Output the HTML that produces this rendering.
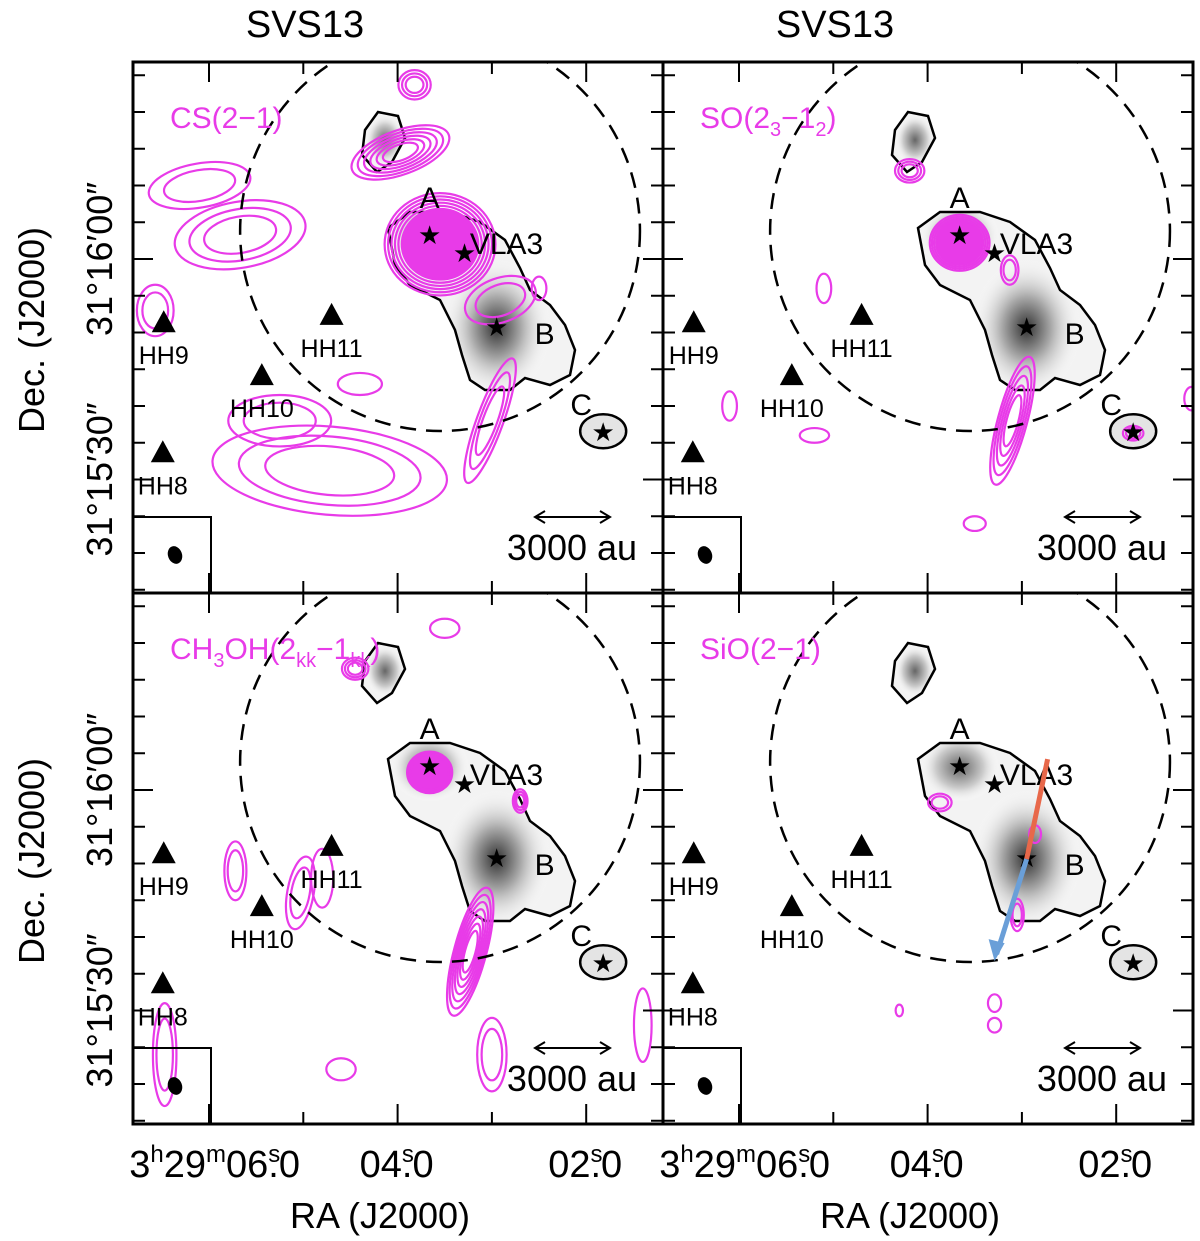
<!DOCTYPE html>
<html><head><meta charset="utf-8"><style>
html,body{margin:0;padding:0;background:#fff;}
svg{display:block;font-family:"Liberation Sans",sans-serif;}
</style></head><body>
<svg id="fig" width="1200" height="1241" viewBox="0 0 1200 1241" xmlns="http://www.w3.org/2000/svg">
<defs>
<radialGradient id="gB" cx="0.5" cy="0.5" r="0.5"><stop offset="0" stop-color="#333"/><stop offset="0.45" stop-color="#aaa"/><stop offset="1" stop-color="#fff" stop-opacity="0"/></radialGradient>
<radialGradient id="gA" cx="0.5" cy="0.5" r="0.5"><stop offset="0" stop-color="#666"/><stop offset="0.6" stop-color="#ccc"/><stop offset="1" stop-color="#fff" stop-opacity="0"/></radialGradient>
</defs>
</svg>
<script>
// ---- data ----
const panelNames = ['CS(2\u22121)','SO','CH3OH','SiO(2\u22121)'];
const starNames = ['A','VLA3','B','C'];
const starRA = [3.66, 3.29, 2.95, 1.82];
const starDec = [3.1, 0.7, -9.4, -23.7];
const hhNames = ['HH9','HH11','HH10','HH8'];
const hhRA = [6.48, 4.70, 5.44, 6.49];
const hhDec = [-8.6, -7.6, -15.8, -26.3];
const circleRA = 3.55, circleDec = 3.8, circleR = 27.2;
const raLabels = ['06','04','02'];
// contour blobs per panel: [ra, dec, rx(arcsec), ry(arcsec), angle, levels, filled]
const csBlobs = [[3.55,2.0,5.2,4.8,0,6,1],[3.97,14.5,7,3,-20,6,0],[3.82,23.7,2.2,2,0,3,0],[5.67,3.3,9,4.5,-10,3,0],[6.10,10,7,3,-10,2,0],[4.72,-28.8,16,6,5,3,0],[5.25,-22,7,3.5,0,2,0],[3.02,-22,1.8,9,20,3,0],[2.91,-5.6,5,3,-20,2,0],[6.57,-7,2.5,3.5,0,2,0],[2.5,-4,1,1.6,0,1,0],[4.4,-17,3,1.5,0,1,0]];
const soBlobs = [[3.66,2.2,3.2,3.0,0,4,1],[4.19,12,2,1.6,0,3,0],[3.13,-1.5,1.2,2,0,2,0],[3.10,-22,2,9,15,5,0],[1.82,-23.7,1.4,1,0,2,0],[5.1,-4,1,2,0,1,0],[6.1,-20,1,2,0,1,0],[5.2,-24,2,1,0,1,0],[3.5,-36,1.5,1,0,1,0],[1.2,-19,1,1.6,0,1,0]];
const chBlobs = [[3.66,2.4,2.6,2.4,0,3,1],[4.45,16.5,1.8,1.5,0,3,0],[3.23,-22,2.2,9,15,7,0],[2.70,-1.5,1,1.6,0,3,0],[5.72,-11,1.5,4,0,2,0],[5.03,-14,1.8,5,10,2,0],[6.47,-36,1.6,7,0,2,0],[4.8,-12,1.5,4,0,1,0],[3.0,-36,2,5,0,2,0],[4.6,-38,2,1.5,0,1,0],[1.4,-32,1.2,5,0,1,0],[3.5,22,2,1.3,0,1,0]];
const sioBlobs = [[3.87,-1.7,1.6,1.2,0,2,0],[2.86,-6,0.8,1.2,0,1,0],[3.05,-17,0.9,2.2,0,2,0],[3.29,-29,0.9,1.2,0,1,0],[3.29,-32,0.9,1,0,1,0],[4.3,-30,0.5,0.8,0,1,0]];
const blobSets = [csBlobs, soBlobs, chBlobs, sioBlobs];

// ---- geometry ----
const W0 = 133, PW = 530, PH = 531, T0 = 62;
const panels = [[0,0],[1,0],[0,1],[1,1]];
function xOf(ra, ox){ return 209 + ox + (6 - ra) * 94.3; }
function yOf(dec, oy){ return 259 + oy - dec * 7.35; }
const ppa = 7.35;
const NS = 'http://www.w3.org/2000/svg';
const svg = document.getElementById('fig');
function el(tag, attrs, parent){ const e = document.createElementNS(NS, tag); for (const k in attrs) e.setAttribute(k, attrs[k]); (parent||svg).appendChild(e); return e; }
const dustMain = [[388,228],[410,212],[450,212],[480,222],[505,240],[520,268],[530,290],[550,305],[565,325],[575,350],[570,375],[550,385],[525,378],[510,390],[485,390],[470,380],[462,355],[455,330],[440,300],[410,285],[395,265]];
const dustNW = [[365,130],[378,112],[398,116],[405,138],[392,162],[377,172],[362,155]];

panels.forEach((p, i) => {
  const ox = p[0]*PW, oy = p[1]*PH;
  const g = el('g', {}, svg);
  
  
  const cid = 'clip' + i;
  const cp = el('clipPath', {id: cid}, g);
  el('rect', {x: W0+ox, y: T0+oy, width: PW, height: PH}, cp);
  const inner = el('g', {'clip-path': 'url(#'+cid+')'}, g);
  const pts = a => a.map(q => (q[0]+ox)+','+(q[1]+oy)).join(' ');
  const dcid = 'dclip' + i;
  const dcp = el('clipPath', {id: dcid}, inner);
  el('polygon', {points: pts(dustMain)}, dcp);
  el('polygon', {points: pts(dustNW)}, dcp);
  const dg = el('g', {'clip-path': 'url(#'+dcid+')'}, inner);
  
  
  el('rect', {x: 330+ox, y: 100+oy, width: 260, height: 300, fill: '#f3f3f3'}, dg);
  el('ellipse', {cx: xOf(starRA[2],ox), cy: yOf(starDec[2],oy), rx: 55, ry: 70, fill: 'url(#gB)'}, dg);
  el('ellipse', {cx: xOf(starRA[0],ox), cy: yOf(starDec[0],oy), rx: 40, ry: 35, fill: 'url(#gA)'}, dg);
  el('ellipse', {cx: 385+ox, cy: 140+oy, rx: 20, ry: 26, fill: 'url(#gA)'}, dg);
  el('polygon', {points: pts(dustMain), fill: 'none', stroke: '#000', 'stroke-width': 2.5}, inner);
  el('polygon', {points: pts(dustNW), fill: 'none', stroke: '#000', 'stroke-width': 2.5}, inner);
  const cC = el('ellipse', {cx: xOf(starRA[3],ox), cy: yOf(starDec[3],oy)-2, rx: 23, ry: 17, fill: '#e4e4e4', stroke: '#000', 'stroke-width': 2.5}, inner);
  
  
  blobSets[i].forEach(b => {
    const cx = xOf(b[0],ox), cy = yOf(b[1],oy);
    for (let k = 0; k < b[5]; k++) {
      const f = b[6] ? (1 + k*0.09) : (1 - k/(b[5]+1)*0.9);
      const e = el('ellipse', {cx: cx, cy: cy, rx: b[2]*ppa*f, ry: b[3]*ppa*f, fill: (b[6] && k===0)?'#e83be8':'none', stroke: '#e83be8', 'stroke-width': 2.2, transform: 'rotate('+b[4]+' '+cx+' '+cy+')'}, inner);
      
      
    }
  });
  const c = el('circle', {cx: xOf(circleRA,ox), cy: yOf(circleDec,oy), r: circleR*ppa, fill: 'none', stroke: '#000', 'stroke-width': 2.5, 'stroke-dasharray': '16 10'}, inner);
  
  
  starNames.forEach((n, j) => {
    const x = xOf(starRA[j],ox), y = yOf(starDec[j],oy);
    const s = el('text', {x: x, y: y+8, 'font-size': 26, 'text-anchor': 'middle', fill: '#000'}, inner);
    s.textContent = '\u2605';
    
    
    const lp = {A:[0,-38], VLA3:[42,-10], B:[48,6], C:[-22,-28]}[n];
    const t = el('text', {x: x+lp[0], y: y+lp[1]+10, 'font-size': 30, 'text-anchor': 'middle', fill: '#000'}, inner);
    t.textContent = n;
    
    
  });
  hhNames.forEach((n, j) => {
    const x = xOf(hhRA[j],ox), y = yOf(hhDec[j],oy);
    const tr = el('polygon', {points: (x-12)+','+(y+10)+' '+(x+12)+','+(y+10)+' '+x+','+(y-12), fill: '#000'}, inner);
    
    
    const t = el('text', {x: x, y: y+42, 'font-size': 25, 'text-anchor': 'middle', fill: '#000'}, inner);
    t.textContent = n;
    
    
  });
  if (i === 3) {
    const bx = xOf(starRA[2],ox), by = yOf(starDec[2],oy);
    const r = el('line', {x1: bx, y1: by, x2: bx+21, y2: by-100, stroke: '#e8684a', 'stroke-width': 5}, inner);
    
    
    const bl = el('line', {x1: bx, y1: by, x2: bx-30, y2: by+95, stroke: '#6a9fd8', 'stroke-width': 5}, inner);
    
    
    el('polygon', {points: (bx-38)+','+(by+80)+' '+(bx-22)+','+(by+84)+' '+(bx-32)+','+(by+102), fill: '#6a9fd8'}, inner);
  }
  const bb = el('rect', {x: W0+ox, y: 517+oy, width: 78, height: 76, fill: 'none', stroke: '#000', 'stroke-width': 2}, g);
  
  
  el('ellipse', {cx: 175+ox, cy: 555+oy, rx: 7, ry: 9, fill: '#000', transform: 'rotate(-20 '+(175+ox)+' '+(555+oy)+')'}, g);
  const sb = el('g', {}, g);
  
  
  el('line', {x1: 535+ox, y1: 517+oy, x2: 610+ox, y2: 517+oy, stroke: '#000', 'stroke-width': 2}, sb);
  el('polyline', {points: (545+ox)+','+(511+oy)+' '+(535+ox)+','+(517+oy)+' '+(545+ox)+','+(523+oy), fill: 'none', stroke: '#000', 'stroke-width': 2}, sb);
  el('polyline', {points: (600+ox)+','+(511+oy)+' '+(610+ox)+','+(517+oy)+' '+(600+ox)+','+(523+oy), fill: 'none', stroke: '#000', 'stroke-width': 2}, sb);
  const st = el('text', {x: 572+ox, y: 560+oy, 'font-size': 36, 'text-anchor': 'middle', fill: '#000', 'xml:space': 'preserve'}, sb);
  st.textContent = '3000  au';
  const ml = el('text', {x: 170+ox, y: 128+oy, 'font-size': 30, fill: '#e83be8'}, g);
  
  
  if (i === 1) ml.innerHTML = 'SO(2<tspan dy="8" font-size="20">3</tspan><tspan dy="-8">\u22121</tspan><tspan dy="8" font-size="20">2</tspan><tspan dy="-8">)</tspan>';
  else if (i === 2) ml.innerHTML = 'CH<tspan dy="8" font-size="20">3</tspan><tspan dy="-8">OH(2</tspan><tspan dy="8" font-size="20">kk</tspan><tspan dy="-8">\u22121</tspan><tspan dy="8" font-size="20">kk</tspan><tspan dy="-8">)</tspan>';
  else ml.textContent = panelNames[i];
  el('rect', {x: W0+ox, y: T0+oy, width: PW, height: PH, fill: 'none', stroke: '#000', 'stroke-width': 3}, g);
  for (let d = 25; d >= -45; d -= 5) {
    const y = yOf(d, oy);
    if (y < T0+oy+3 || y > T0+oy+PH-3) continue;
    const L = (d % 30 === 0) ? 20 : 12;
    el('line', {x1: W0+ox, y1: y, x2: W0+ox+L, y2: y, stroke: '#000', 'stroke-width': 2}, g);
    el('line', {x1: W0+ox+PW, y1: y, x2: W0+ox+PW-L, y2: y, stroke: '#000', 'stroke-width': 2}, g);
  }
  for (let r = 6; r >= 1.5; r -= 1) {
    const x = xOf(r, ox);
    const L = (Math.round(r) % 2 === 0) ? 20 : 12;
    el('line', {x1: x, y1: T0+oy, x2: x, y2: T0+oy+L, stroke: '#000', 'stroke-width': 2}, g);
    el('line', {x1: x, y1: T0+oy+PH, x2: x, y2: T0+oy+PH-L, stroke: '#000', 'stroke-width': 2}, g);
  }
  if (p[0] === 0) {
    [[0,'31\u00b016\u203200\u2033'],[-30,'31\u00b015\u203230\u2033']].forEach(q => {
      const y = yOf(q[0], oy);
      const t = el('text', {x: 112, y: y, 'font-size': 36, 'text-anchor': 'middle', transform: 'rotate(-90 112 '+y+')'}, svg);
      t.textContent = q[1];
      
      
    });
    const yl = el('text', {x: 44, y: 330+oy, 'font-size': 36, 'text-anchor': 'middle', transform: 'rotate(-90 44 '+(330+oy)+')', 'xml:space': 'preserve'}, svg);
    yl.textContent = 'Dec.  (J2000)';
    
    
  }
  if (p[1] === 1) {
    [6,4,2].forEach((r, k) => {
      const x = xOf(r, ox);
      const t = el('text', {x: k===0 ? 300+ox : x+36, y: 1177, 'font-size': 38, 'text-anchor': 'end'}, svg);
      t.innerHTML = (k===0 ? '3<tspan dy="-15" font-size="24">h</tspan><tspan dy="15">29</tspan><tspan dy="-15" font-size="24">m</tspan><tspan dy="15">'+raLabels[k]+'</tspan>' : raLabels[k]) + '<tspan dy="-15" font-size="24">s</tspan><tspan dy="15" dx="-12">.0</tspan>';
      
      
    });
    const xl = el('text', {x: 380+ox, y: 1228, 'font-size': 36, 'text-anchor': 'middle', 'xml:space': 'preserve'}, svg);
    xl.textContent = 'RA  (J2000)';
    
    
  }
  if (p[1] === 0) {
    const tt = el('text', {x: 305+ox, y: 37, 'font-size': 38, 'text-anchor': 'middle'}, svg);
    tt.textContent = 'SVS13';
    
    
  }
});
</script>
</body></html>
